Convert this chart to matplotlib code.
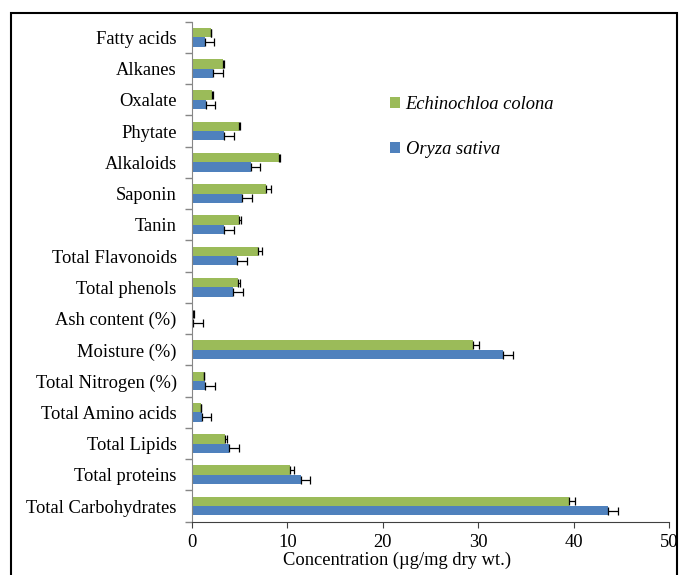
import numpy as np
import matplotlib.pyplot as plt
from matplotlib.patches import Rectangle

plt.rcParams['font.family'] = 'Liberation Serif'

# categorias de abajo hacia arriba
categorias = ['Total Carbohydrates', 'Total proteins', 'Total Lipids', 'Total Amino acids',
              'Total Nitrogen (%)', 'Moisture (%)', 'Ash content (%)', 'Total phenols',
              'Total Flavonoids', 'Tanin', 'Saponin', 'Alkaloids', 'Phytate', 'Oxalate',
              'Alkanes', 'Fatty acids']
echinochloa = [39.5, 10.3, 3.5, 0.9, 1.22, 29.45, 0.15, 4.8, 6.95, 4.95, 7.75, 9.1, 4.95, 2.05, 3.3, 1.95]
echinochloa_err = [0.6, 0.4, 0.2, 0.08, 0.06, 0.6, 0.08, 0.25, 0.35, 0.15, 0.5, 0.12, 0.1, 0.2, 0.05, 0.08]
oryza = [43.6, 11.4, 3.9, 1.05, 1.36, 32.6, 0.12, 4.3, 4.72, 3.4, 5.24, 6.15, 3.4, 1.44, 2.24, 1.33]
oryza_err = [1.1, 1.0, 1.05, 0.95, 1.1, 1.0, 1.05, 1.0, 1.05, 1.0, 1.05, 0.98, 0.97, 0.96, 0.96, 0.97]

verde = '#9BBB59'
azul = '#4F81BD'
fs = 13.3

fig = plt.figure(figsize=(6.79, 5.75), dpi=100)
ax = fig.add_axes([192/679, 1-521.7/575, (669-192)/679, 500/575])

y = np.arange(len(categorias))
h = 0.3
ekw = dict(ecolor='black', elinewidth=0.9, capsize=3, capthick=0.9)
ax.barh(y+0.15, echinochloa, height=h, color=verde, label='Echinochloa colona',
        xerr=[np.zeros(len(y)), echinochloa_err], error_kw=ekw)
ax.barh(y-0.15, oryza, height=h, color=azul, label='Oryza sativa',
        xerr=[np.zeros(len(y)), oryza_err], error_kw=ekw)

ax.set_xlim(0, 50)
ax.set_ylim(-0.5, len(y)-0.5)
ax.set_yticks(y)
ax.set_yticklabels(categorias, fontsize=fs)
ax.set_yticks(np.arange(-0.5, len(y)), minor=True)
ax.tick_params(axis='y', which='major', length=0, pad=11)
ax.tick_params(axis='y', which='minor', length=5, color='#868686', width=1)
ax.set_xticks(np.arange(0, 51, 10))
ax.tick_params(axis='x', labelsize=fs, length=4, color='#404040', pad=5)
ax.set_xlabel('Concentration (µg/mg dry wt.)', fontsize=fs, labelpad=0, x=0.43)

for s in ('top', 'right'):
    ax.spines[s].set_visible(False)
ax.spines['left'].set_color('#868686')
ax.spines['bottom'].set_color('#404040')

ax.legend(loc='upper left', bbox_to_anchor=(0.38, 0.885), frameon=False,
          prop=dict(family='Liberation Serif', style='italic', size=fs),
          handlelength=0.55, handleheight=0.55, handletextpad=0.3, labelspacing=1.55)

fig.patches.append(Rectangle((11/679, -0.1), (677-11)/679, 1.1-12.5/575, transform=fig.transFigure,
                             fill=False, edgecolor='black', lw=1.5, clip_on=False))

fig.savefig('out.png', dpi=100)
